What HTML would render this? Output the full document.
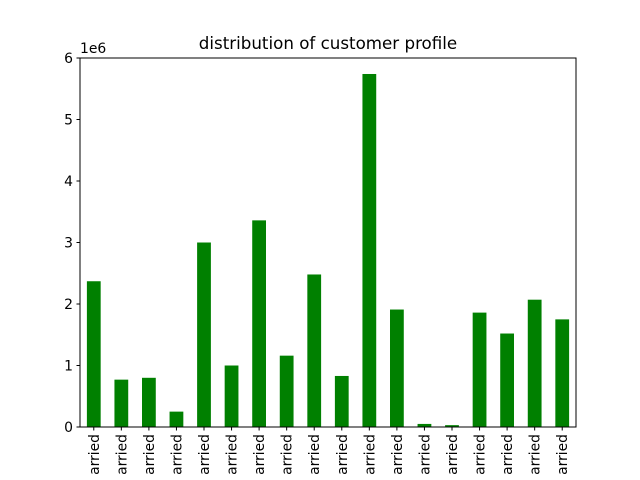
<!DOCTYPE html>
<html><head><meta charset="utf-8"><style>body{margin:0;background:#fff}svg{display:block}text{font-family:"DejaVu Sans","Liberation Sans",sans-serif;fill:#000}</style></head>
<body>
<svg id="chart" width="640" height="480">
<rect x="0" y="0" width="640" height="480" fill="#fff"/>
<text x="328" y="49" font-size="16.7" text-anchor="middle">distribution of customer profile</text>
<text x="80" y="53" font-size="13.9">1e6</text>
<g id="bars"></g>
<g id="yticks"></g>
<g id="xticks"></g>
<rect x="80" y="58" width="496" height="369" fill="none" stroke="#000" stroke-width="1"/>
</svg>
<script>
const categories = ["arried","arried","arried","arried","arried","arried","arried","arried","arried","arried","arried","arried","arried","arried","arried","arried","arried","arried"];
const values = [2.37,0.77,0.80,0.25,3.00,1.00,3.36,1.16,2.48,0.83,5.74,1.91,0.05,0.03,1.86,1.52,2.07,1.75];
const yTicks = [0,1,2,3,4,5,6];
const L=80,R=576,T=58,B=427,yMax=6;
const ns="http://www.w3.org/2000/svg";
const y=v=>B-(v/yMax)*(B-T);
const step=(R-L)/categories.length;
const x=i=>L+step*(i+0.5);
const bw=step*0.5;
const bars=document.getElementById('bars'),yt=document.getElementById('yticks'),xt=document.getElementById('xticks');
values.forEach((v,i)=>{
 const r=document.createElementNS(ns,'rect');
 r.setAttribute('x',x(i)-bw/2);r.setAttribute('y',y(v));r.setAttribute('width',bw);r.setAttribute('height',B-y(v));r.setAttribute('fill','#008000');
 
 
 bars.appendChild(r);
});
yTicks.forEach(t=>{
 const l=document.createElementNS(ns,'line');
 l.setAttribute('x1',L-3.5);l.setAttribute('x2',L);l.setAttribute('y1',y(t));l.setAttribute('y2',y(t));l.setAttribute('stroke','#000');
 
 
 yt.appendChild(l);
 const s=document.createElementNS(ns,'text');
 s.setAttribute('x',L-7);s.setAttribute('y',y(t)+5);s.setAttribute('font-size','13.9');s.setAttribute('text-anchor','end');s.textContent=t;
 
 
 yt.appendChild(s);
});
categories.forEach((c,i)=>{
 const l=document.createElementNS(ns,'line');
 l.setAttribute('x1',x(i));l.setAttribute('x2',x(i));l.setAttribute('y1',B);l.setAttribute('y2',B+3.5);l.setAttribute('stroke','#000');
 
 
 xt.appendChild(l);
 const s=document.createElementNS(ns,'text');
 s.setAttribute('font-size','13.9');s.setAttribute('text-anchor','end');
 s.setAttribute('transform','translate('+(x(i)+5)+','+(B+7)+') rotate(-90)');s.textContent=c;
 
 
 xt.appendChild(s);
});
</script>
</body></html>
